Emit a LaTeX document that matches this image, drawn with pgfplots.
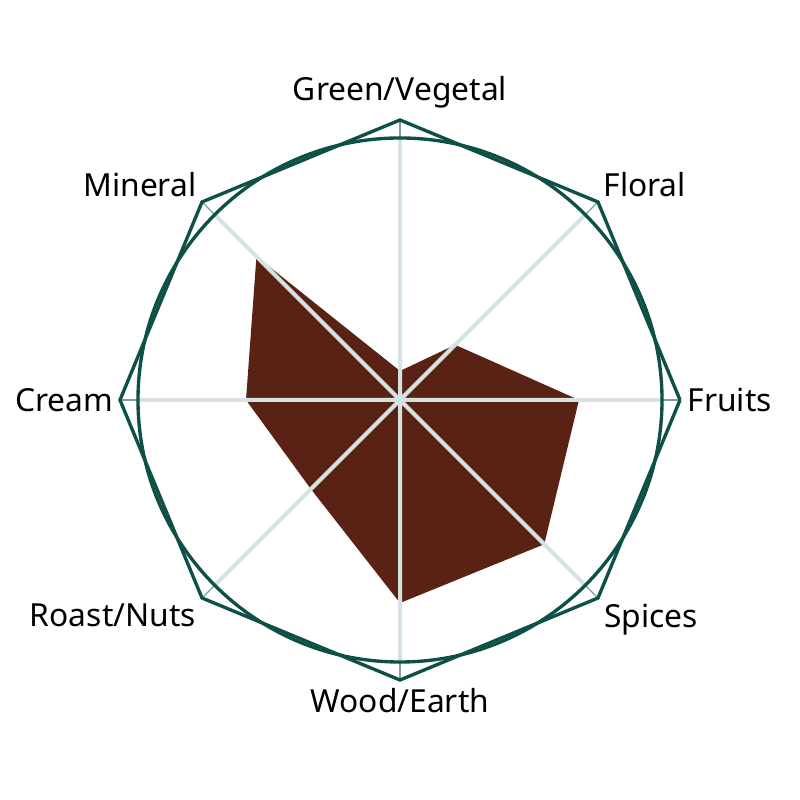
\documentclass[border=0pt]{standalone}
\usepackage{fontspec}
\setmainfont{Noto Sans}
\usepackage{pgfplots}
\pgfplotsset{compat=1.18}
\usepgfplotslibrary{polar}

\definecolor{tasteFill}{HTML}{5A2215}
\definecolor{ringTeal}{HTML}{0E4F47}
\definecolor{spokeGrey}{HTML}{D5E2E2}

\begin{document}
\begin{tikzpicture}[lbl/.style={inner sep=0pt, font=\fontsize{11.3}{13}\selectfont}]
\begin{polaraxis}[
    scale only axis,
    width=65.5mm, height=65.5mm,
    ymin=0, ymax=262,
    xtick={0,45,...,315},
    xticklabels={},
    ytick=\empty,
    xmajorgrids,
    x grid style={spokeGrey, line width=0.5mm},
    x axis line style={ringTeal, line width=0.42mm},
    y axis line style={draw=none},
    major tick length=0pt,
    xtick style={draw=none},
    axis on top,
    clip=false,
]
\coordinate (c) at (axis cs:0,0);
% flavour profile
\addplot[fill=tasteFill, draw=none] coordinates {
    (0,179) (45,78) (90,29) (135,203) (180,154) (225,126) (270,203) (315,204) (360,179)
} \closedcycle;
% thin spoke ends between ring and octagon
\pgfplotsinvokeforeach{0,45,90,135,180,225,270,315}{
    \draw[ringTeal!45!spokeGrey, line width=0.15mm] (axis cs:#1,262) -- (axis cs:#1,280);
}
% outer octagon
\addplot[ringTeal, line width=0.42mm, no marks] coordinates {
    (0,280) (45,280) (90,280) (135,280) (180,280) (225,280) (270,280) (315,280) (360,280)
};
\node[lbl, anchor=west]       at (axis cs:0,287)   {Fruits};
\node[lbl, anchor=south west] at (axis cs:45,287)  {Floral};
\node[lbl, anchor=south]      at (axis cs:90,291)  {Green/Vegetal};
\node[lbl, anchor=south east] at (axis cs:135,287) {Mineral};
\node[lbl, anchor=east]       at (axis cs:180,286) {Cream};
\node[lbl, anchor=north east] at (axis cs:225,288) {Roast/Nuts};
\node[lbl, anchor=north]      at (axis cs:270,288) {Wood/Earth};
\node[lbl, anchor=north west] at (axis cs:315,288) {Spices};
\end{polaraxis}
\path (c) ++(-50mm,-50mm) rectangle ++(100mm,100mm);
\end{tikzpicture}
\end{document}
